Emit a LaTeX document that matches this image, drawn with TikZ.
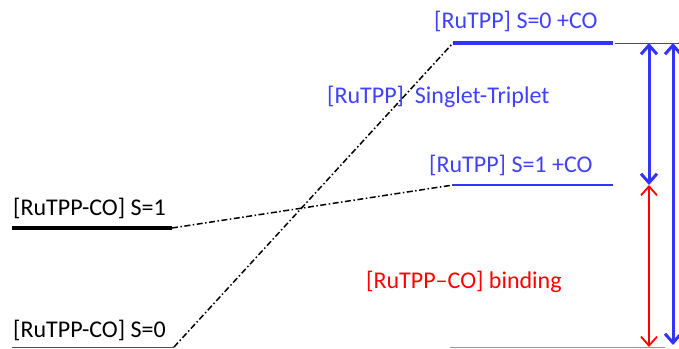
\documentclass[tikz,border=0pt]{standalone}
\usepackage{fontspec}
\setmainfont{Carlito}
\usetikzlibrary{arrows.meta}
\definecolor{lvlblue}{RGB}{51,51,255}
\definecolor{txtblue}{RGB}{64,64,255}
\definecolor{lvlred}{RGB}{255,0,0}
\definecolor{refgray}{RGB}{80,80,80}
\begin{document}
\begin{tikzpicture}[x=1pt,y=-1pt,
  lbl/.style={anchor=base west,inner sep=0pt,font=\fontsize{24}{28}\selectfont},
  dd/.style={line width=1.5pt,dash pattern=on 6pt off 2.5pt on 1.5pt off 2.5pt},
  reflevel/.style={line width=1pt,refgray},
  dbl/.style={{Straight Barb[length=9pt,width=16pt]}-{Straight Barb[length=9pt,width=16pt]}},
]
\useasboundingbox (0,0) rectangle (679,348);
% levels
\coordinate (a1) at (12,228); \coordinate (a2) at (172,228);
\coordinate (b1) at (12,347); \coordinate (b2) at (174,347);
\coordinate (c1) at (453,43); \coordinate (c2) at (613,43);
\coordinate (d1) at (453,185); \coordinate (d2) at (613,185);
\coordinate (t1) at (615,43); \coordinate (t2) at (679,43);
\coordinate (u1) at (450,347); \coordinate (u2) at (665,347);
\draw[line width=4pt] (a1) -- (a2);
\draw[reflevel] (b1) -- (b2);
\draw[lvlblue,line width=4pt] (c1) -- (c2);
\draw[lvlblue,line width=2pt] (d1) -- (d2);
\draw[reflevel] (t1) -- (t2);
\draw[reflevel,refgray!60] (u1) -- (u2);
% correlation lines
\draw[dd] (a2) -- (d1);
\draw[dd] (b2) -- (c1);
% arrows
\coordinate (p1) at (649,43); \coordinate (p2) at (649,185); \coordinate (p3) at (649,347);
\coordinate (q1) at (673,43); \coordinate (q2) at (673,345);
\draw[dbl,lvlblue,line width=3pt] (p1) -- (p2);
\draw[dbl,lvlred,line width=1.8pt] (p2) -- (p3);
\draw[dbl,lvlblue,line width=3pt] (q1) -- (q2);
% labels
\node[lbl] (l1) at (13,215) {[RuTPP-CO] S=1};
\node[lbl] (l0) at (13,337) {[RuTPP-CO] S=0};
\node[lbl,text=txtblue] (lc) at (434,28) {[RuTPP] S=0 +CO};
\node[lbl,text=txtblue] (ld) at (429,172) {[RuTPP] S=1 +CO};
\node[lbl,text=txtblue] (lst) at (327,103) {[RuTPP]\ \ Singlet-Triplet};
\node[lbl,text=lvlred] (lb) at (366,288) {[RuTPP–CO] binding};
\end{tikzpicture}
\end{document}
